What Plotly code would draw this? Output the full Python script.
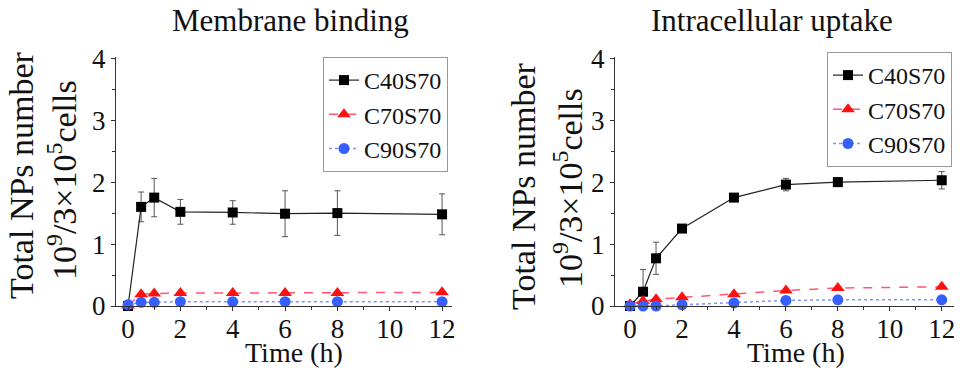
import plotly.graph_objects as go

# ---- data ----
time_h = [0, 0.5, 1, 2, 4, 6, 8, 12]
series_names = ["C40S70", "C70S70", "C90S70"]

mem_c40 = [0.0, 1.60, 1.75, 1.52, 1.51, 1.49, 1.50, 1.48]
mem_c40_err = [0.0, 0.24, 0.31, 0.20, 0.19, 0.37, 0.36, 0.33]
mem_c70 = [0.01, 0.19, 0.20, 0.21, 0.21, 0.21, 0.21, 0.22]
mem_c90 = [0.02, 0.06, 0.06, 0.07, 0.07, 0.07, 0.07, 0.07]

up_c40 = [0.0, 0.23, 0.77, 1.25, 1.75, 1.96, 2.00, 2.03]
up_c40_err = [0.0, 0.36, 0.26, 0.04, 0.04, 0.10, 0.07, 0.14]
up_c70 = [0.03, 0.08, 0.11, 0.14, 0.19, 0.25, 0.29, 0.31]
up_c90 = [0.0, 0.0, 0.0, 0.02, 0.05, 0.09, 0.10, 0.10]

panel_titles = ["Membrane binding", "Intracellular uptake"]
x_ticks = [0, 2, 4, 6, 8, 10, 12]
y_ticks = [0, 1, 2, 3, 4]
ytitle_1 = "Total NPs number"
ytitle_2 = "10<sup>9</sup>/3×10<sup>5</sup>cells"
xtitle = "Time (h)"

FONT = "Liberation Serif"
W, H = 962, 370
OFF = 8  # page body margin in the browser

fig = go.Figure()

def add_panel(xa, ya, legend, c40, c40e, c70, c90):
    fig.add_trace(go.Scatter(
        x=time_h, y=c40, name=series_names[0], xaxis=xa, yaxis=ya, legend=legend,
        mode="lines+markers", cliponaxis=False,
        line=dict(color="#222222", width=1.2),
        marker=dict(symbol="square", size=10, color="#000000"),
        error_y=dict(type="data", array=c40e, color="#555555", thickness=1, width=3)))
    fig.add_trace(go.Scatter(
        x=time_h, y=c70, name=series_names[1], xaxis=xa, yaxis=ya, legend=legend,
        mode="lines+markers", cliponaxis=False,
        line=dict(color="#ff5577", width=1.5, dash="dash"),
        marker=dict(symbol="triangle-up", size=12, color="#ff1010")))
    fig.add_trace(go.Scatter(
        x=time_h, y=c90, name=series_names[2], xaxis=xa, yaxis=ya, legend=legend,
        mode="lines+markers", cliponaxis=False,
        line=dict(color="#8090ff", width=1.5, dash="dot"),
        marker=dict(symbol="circle", size=11, color="#3560ff")))

add_panel("x", "y", "legend", mem_c40, mem_c40_err, mem_c70, mem_c90)
add_panel("x2", "y2", "legend2", up_c40, up_c40_err, up_c70, up_c90)

def px_x(s):
    return (s - OFF) / W

def px_y(s):
    return 1 - (s - OFF) / H

axis_common = dict(
    showline=True, linecolor="#333333", linewidth=1, mirror=False,
    showgrid=False, zeroline=False, ticks="outside", tickcolor="#333333",
    automargin=False,
    tickfont=dict(family=FONT, size=27, color="#111111"),
)
xminor = dict(dtick=1, ticks="outside", ticklen=3, tickcolor="#333333")
yminor = dict(dtick=0.5, ticks="outside", ticklen=3, tickcolor="#333333")

ydom = [px_y(306), px_y(57)]
fig.update_layout(
    width=W, height=H, autosize=False,
    margin=dict(l=0, r=0, t=0, b=0, pad=0, autoexpand=False),
    paper_bgcolor="white", plot_bgcolor="white", showlegend=True,
    xaxis=dict(domain=[px_x(116), px_x(452)], range=[-0.46, 12.38], anchor="y",
               tickvals=x_ticks, minor=xminor, ticklen=4, ticklabelstandoff=-5,
               **axis_common),
    yaxis=dict(domain=ydom, range=[0, 4.02], anchor="x", tickvals=y_ticks,
               minor=yminor, ticklen=4, **axis_common),
    xaxis2=dict(domain=[px_x(615), px_x(955)], range=[-0.58, 12.51], anchor="y2",
                tickvals=x_ticks, minor=xminor, ticklen=4, ticklabelstandoff=-5,
                **axis_common),
    yaxis2=dict(domain=ydom, range=[0, 4.02], anchor="x2", tickvals=y_ticks,
                minor=yminor, ticklen=4, **axis_common),
    legend=dict(x=px_x(448), y=px_y(57), xanchor="right", yanchor="top",
                bgcolor="white", bordercolor="#999999", borderwidth=1,
                font=dict(family=FONT, size=24, color="#111111"), itemwidth=30),
    legend2=dict(x=px_x(952), y=px_y(52), xanchor="right", yanchor="top",
                 bgcolor="white", bordercolor="#999999", borderwidth=1,
                 font=dict(family=FONT, size=24, color="#111111"), itemwidth=30),
)

annos = []
# panel titles
for cx, t in zip([290, 772], panel_titles):
    annos.append(dict(text=t, x=px_x(cx), y=px_y(20), xref="paper", yref="paper",
                      xanchor="center", yanchor="middle", showarrow=False,
                      font=dict(family=FONT, size=31, color="#111111")))
# y titles
for cx1, cy1, cx2, cy2 in [(21, 175, 62, 180), (523, 186, 568, 188)]:
    annos.append(dict(text=ytitle_1, x=px_x(cx1), y=px_y(cy1), xref="paper", yref="paper",
                      xanchor="center", yanchor="middle", showarrow=False, textangle=-90,
                      font=dict(family=FONT, size=34, color="#111111")))
    annos.append(dict(text=ytitle_2, x=px_x(cx2), y=px_y(cy2), xref="paper", yref="paper",
                      xanchor="center", yanchor="middle", showarrow=False, textangle=-90,
                      font=dict(family=FONT, size=34, color="#111111")))
# x titles
for cx, cy in [(294, 352), (796, 352)]:
    annos.append(dict(text=xtitle, x=px_x(cx), y=px_y(cy), xref="paper", yref="paper",
                      xanchor="center", yanchor="middle", showarrow=False,
                      font=dict(family=FONT, size=28, color="#111111")))
fig.update_layout(annotations=annos)

fig.write_html("out.html", config={"responsive": False})
